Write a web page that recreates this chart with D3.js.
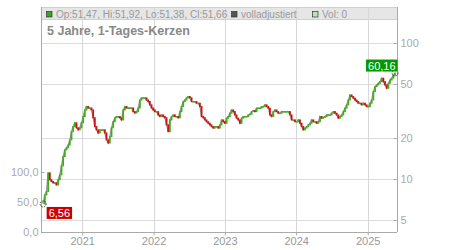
<!DOCTYPE html>
<html><head><meta charset="utf-8">
<script src="https://cdn.jsdelivr.net/npm/d3@7"></script>
<style>body{margin:0;background:#fff}svg{display:block;font-family:"Liberation Sans",Arial,sans-serif}</style>
</head><body>
<svg id="c" width="450" height="250"></svg>
<script>
// Close prices, sampled at a regular step between the first and last date
const closes = [6.56,7.65,8.09,11.1,9.88,9.59,9.38,9.38,9.06,9.88,10.74,12.5,14.6,16.4,16.95,17.8,19.4,22.3,24.3,25.9,
23.8,23.0,23.8,25.9,28.8,32.2,34.1,33.3,33.3,32.2,28.2,24.3,23.0,21.8,23.0,23.0,23.0,21.8,19.4,18.4,
20.5,23.8,26.4,28.2,28.8,28.8,28.2,27.2,32.2,34.1,33.3,33.3,33.3,33.3,31.3,30.6,31.3,33.3,38.1,39.5,
39.5,39.5,38.1,37.1,35.1,33.3,32.2,31.3,31.3,29.6,28.8,29.6,28.8,28.2,25.0,22.3,27.2,28.8,29.6,28.8,
28.8,28.2,31.3,34.1,37.1,38.1,39.5,40.4,39.5,37.1,37.1,37.1,36.1,36.1,34.1,28.8,28.2,27.2,26.4,25.7,
25.0,24.3,23.7,24.3,24.3,23.7,25.0,27.2,26.4,25.7,28.0,28.8,30.5,32.2,31.3,29.6,28.0,27.2,25.7,28.0,
28.8,28.8,28.8,29.6,30.0,31.3,31.8,31.3,33.2,33.2,33.2,34.1,34.1,35.1,34.1,33.2,29.6,28.8,31.3,32.2,
31.3,30.5,30.5,31.3,31.3,31.3,31.3,31.3,29.6,27.2,27.2,26.4,26.4,27.2,25.7,24.3,23.0,23.7,24.3,25.0,
25.7,27.2,26.4,26.4,25.7,26.4,28.8,28.0,28.4,28.8,29.6,29.6,29.6,30.5,31.3,30.5,29.6,28.0,28.8,29.6,
31.3,33.2,35.1,38.1,41.5,40.4,39.3,38.1,37.1,36.1,36.1,35.1,36.1,35.1,34.1,34.1,36.1,38.1,43.9,47.8,
49.2,50.6,52.0,55.1,52.0,49.2,46.5,50.6,53.5,55.1,58.2,60.16];
const firstDate = "2020-06-15", lastDate = "2025-05-21";
const domainStart = "2020-06-04", domainEnd = "2025-05-31";
const priceTicks = [5, 10, 20, 50, 100];
const volTicks = [0, 50, 100];
const yearTicks = ["2021-01-01","2022-01-01","2023-01-01","2024-01-01","2025-01-01"];
const headerOHLC = "Op:51,47, Hi:51,92, Lo:51,38, Cl:51,66";
const title = "5 Jahre, 1-Tages-Kerzen";
const firstLabel = "6,56", lastLabel = "60,16";

const svg = d3.select("#c");
const L = 41, R = 397, T = 7, B = 232;
const parse = d3.utcParse("%Y-%m-%d");
const x = d3.scaleUtc().domain([parse(domainStart), parse(domainEnd)]).range([L, R]);
const y = d3.scaleLog().domain([4.08, 184]).range([B, T]);
const yv = d3.scaleLinear().domain([0, 375]).range([B, T]);
const idx = d3.scaleLinear().domain([0, closes.length - 1]).range([parse(firstDate), parse(lastDate)]);
const data = closes.map((c, i) => ({date: new Date(idx(i)), close: c, open: i ? closes[i-1] : c}));

// header band
svg.append("rect").attr("x", L + 0.5).attr("y", T + 0.5).attr("width", R - L).attr("height", 12)
  .attr("fill", "#e6e6e6").attr("stroke", "#d0d0d0");

// grid
const g = svg.append("g");
g.selectAll(".hg").data(priceTicks).join("line")
  .attr("x1", L).attr("x2", R).attr("y1", d => Math.round(y(d)) + 0.5).attr("y2", d => Math.round(y(d)) + 0.5)
  .attr("stroke", "#dcdcdc");
g.selectAll(".vg").data(yearTicks).join("line")
  .attr("x1", d => Math.round(x(parse(d))) + 0.5).attr("x2", d => Math.round(x(parse(d))) + 0.5)
  .attr("y1", T).attr("y2", B).attr("stroke", "#d8d8d8");

// axes
const axR = svg.append("g").attr("transform", `translate(${R + 0.5},0)`)
  .call(d3.axisRight(y).tickValues(priceTicks).tickFormat(d3.format("d")).tickSize(3).tickPadding(1));
axR.select(".domain").attr("stroke", "#aaa").attr("d", `M0,${T}V${B}`);
axR.selectAll(".tick line").attr("stroke", "#aaa").attr("x1", -4).attr("x2", 0);
axR.selectAll("text").attr("fill", "#aaa").attr("font-size", 11).attr("x", 3).attr("font-family", "Liberation Sans, Arial");

const axL = svg.append("g").attr("transform", `translate(${L + 0.5},0)`)
  .call(d3.axisLeft(yv).tickValues(volTicks).tickFormat(d => d3.format(".1f")(d).replace(".", ",")).tickSize(0).tickPadding(3));
axL.select(".domain").attr("stroke", "#aaa").attr("d", `M0,${T}V${B}`);
axL.selectAll(".tick line").attr("stroke", "#aaa").attr("x1", 0).attr("x2", 3);
axL.selectAll("text").attr("fill", "#aaa").attr("font-size", 11).attr("font-family", "Liberation Sans, Arial");

const axB = svg.append("g").attr("transform", `translate(0,${B + 0.5})`)
  .call(d3.axisBottom(x).tickValues(yearTicks.map(parse)).tickFormat(d3.utcFormat("%Y")).tickSize(3).tickPadding(2));
axB.select(".domain").attr("stroke", "#aaa").attr("d", `M${L},0H${R}`);
axB.selectAll(".tick line").attr("stroke", "#aaa");
axB.selectAll("text").attr("fill", "#999").attr("font-size", 11).attr("font-family", "Liberation Sans, Arial");

// price line
svg.append("path").datum(data)
  .attr("d", d3.line().x(d => x(d.date)).y(d => y(d.close)))
  .attr("fill", "none").attr("stroke", "#9a9a9a").attr("stroke-width", 1.3);

// candles
svg.append("g").selectAll("rect").data(data.slice(1)).join("rect")
  .attr("x", d => x(d.date) - 0.9).attr("width", 1.8)
  .attr("y", d => y(Math.max(d.open, d.close)) - 0.5)
  .attr("height", d => Math.max(1.5, Math.abs(y(d.open) - y(d.close)) + 1))
  .attr("fill", d => d.close >= d.open ? "#44aa22" : "#cc1111");

// header texts
const hdr = svg.append("g").attr("font-size", 10).attr("fill", "#999");
hdr.append("rect").attr("x", 46.5).attr("y", 11.5).attr("width", 5.5).attr("height", 5.5).attr("fill", "#33aa22").attr("stroke", "#333").attr("stroke-width", 0.7);
hdr.append("text").attr("x", 56).attr("y", 17.5).text(headerOHLC);
hdr.append("rect").attr("x", 231.5).attr("y", 11.5).attr("width", 5.5).attr("height", 5.5).attr("fill", "#555").attr("stroke", "#333").attr("stroke-width", 0.7);
hdr.append("text").attr("x", 241).attr("y", 17.5).text("volladjustiert");
hdr.append("rect").attr("x", 312.5).attr("y", 11.5).attr("width", 5.5).attr("height", 5.5).attr("fill", "#bde5bd").attr("stroke", "#333").attr("stroke-width", 0.7);
hdr.append("text").attr("x", 322).attr("y", 17.5).text("Vol: 0");

svg.append("text").attr("x", 47).attr("y", 35).attr("font-size", 12.5).attr("font-weight", "bold")
  .attr("fill", "#888").text(title);

// first / last markers
const f = data[0], l = data[data.length - 1];
[f, l].forEach(d => svg.append("circle").attr("cx", x(d.date)).attr("cy", y(d.close)).attr("r", 3)
  .attr("fill", "none").attr("stroke", "#222").attr("stroke-width", 0.8).attr("stroke-dasharray", "1.5,1"));

function label(d, txt, color, dx, dy) {
  const px = x(d.date) + dx, py = y(d.close) + dy;
  const lg = svg.append("g");
  const r = lg.append("rect").attr("x", px).attr("y", py).attr("height", 12).attr("fill", color);
  const t = lg.append("text").attr("x", px + 2).attr("y", py + 10).attr("font-size", 11).attr("fill", "#fff").text(txt);
  r.attr("width", t.node().getComputedTextLength() + 4);
}
label(f, firstLabel, "#cc0000", 3.5, 3);
label(l, lastLabel, "#009900", -29, -13.5);
</script>
</body></html>
